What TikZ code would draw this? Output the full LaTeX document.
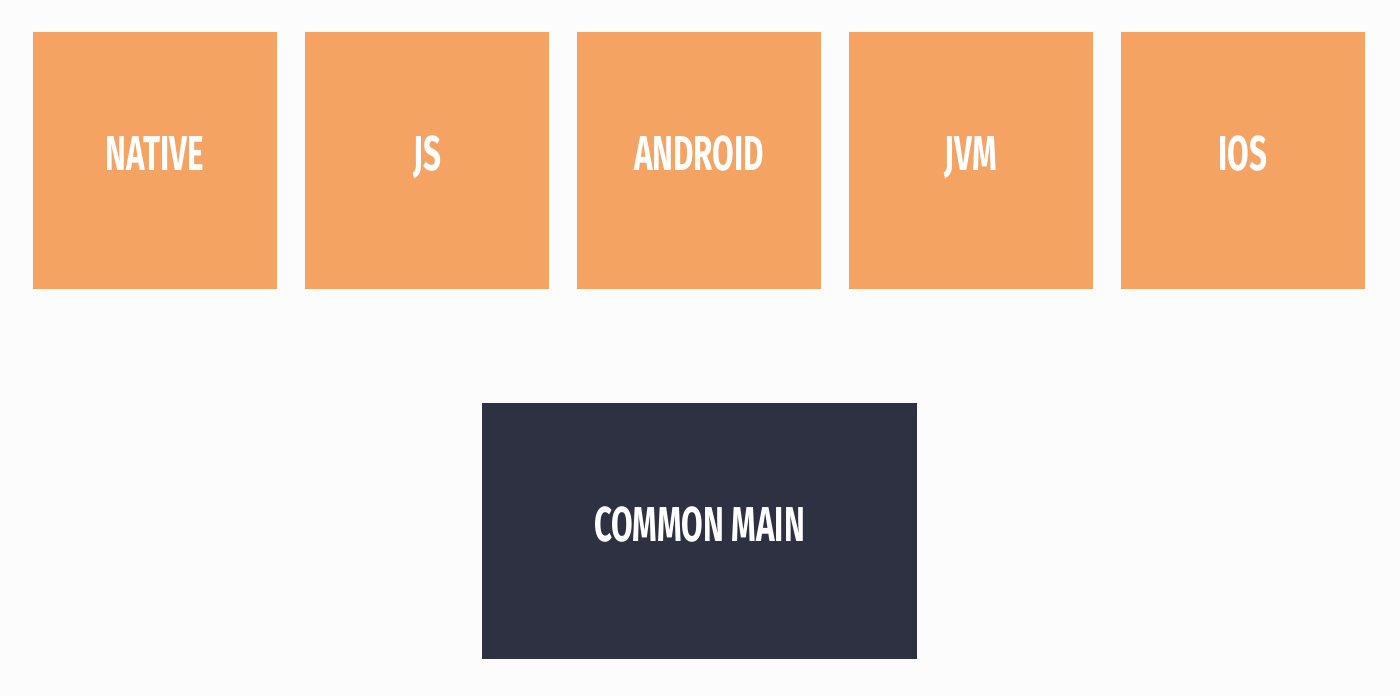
\documentclass[tikz,border=0pt]{standalone}
\usepackage{fontspec}
\setmainfont[FakeStretch=0.64]{Fira Sans}
\usepackage{xcolor}
\definecolor{bgcol}{HTML}{FCFCFC}
\definecolor{targetcol}{HTML}{F4A362}
\definecolor{commoncol}{HTML}{2E3142}

\begin{document}
\begin{tikzpicture}[x=1pt, y=-1pt,
	target/.style={fill=targetcol, inner sep=0, minimum width=244pt, minimum height=257pt, text=white, text height=33pt, text depth=13pt, font=\fontsize{49}{49}\selectfont\bfseries},
	common/.style={fill=commoncol, inner sep=0, minimum width=435pt, minimum height=256pt, text=white, text height=33pt, text depth=13pt, font=\fontsize{49}{49}\selectfont\bfseries}]
	\fill[bgcol] (0, 0) rectangle (1400, 696);
	\node (native) [target] at (155, 160.5) {NATIVE};
	\node (js) [target] at (427, 160.5) {JS};
	\node (android) [target] at (699, 160.5) {ANDROID};
	\node (jvm) [target] at (971, 160.5) {JVM};
	\node (ios) [target] at (1243, 160.5) {IOS};
	\node (main) [common] at (699.5, 531) {COMMON MAIN};
\end{tikzpicture}
\end{document}
